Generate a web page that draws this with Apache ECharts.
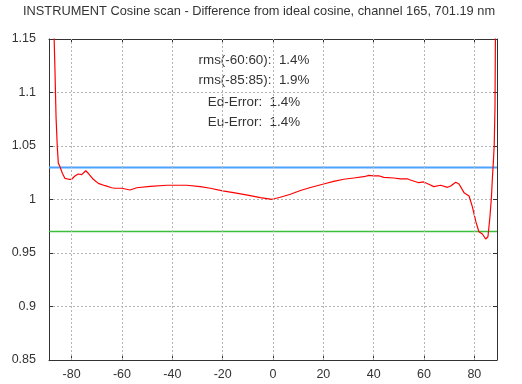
<!DOCTYPE html>
<html>
<head>
<meta charset="utf-8">
<script src="https://cdn.jsdelivr.net/npm/echarts@6/dist/echarts.min.js"></script>
<style>
  html, body { margin: 0; padding: 0; background: #fff; }
  #chart { width: 522px; height: 384px; }
</style>
</head>
<body>
<div id="chart"></div>
<script>
// Cosine-scan deviation: measured / ideal cosine response versus incidence angle
const angles = [-87.5, -86.6, -86.2, -85.7, -85.3, -84.7, -83.7, -82.7, -81.1, -80.0,
  -78.7, -77.4, -76.0, -74.4, -73.4, -71.4, -69.4, -66.7, -64.1, -62.8,
  -60.1, -56.8, -54.1, -48.8, -42.2, -34.2, -28.9, -24.9, -20.0, -15.7,
  -9.0, -5.1, -0.4, 2.9, 6.9, 10.9, 14.9, 20.1, 24.1, 28.1,
  32.1, 36.1, 38.1, 40.0, 42.0, 44.0, 48.0, 50.6, 53.3, 54.6,
  57.9, 59.9, 61.9, 63.9, 66.6, 69.3, 70.6, 72.6, 73.9, 75.9,
  77.9, 79.2, 80.6, 81.8, 83.2, 84.5, 85.4, 86.2, 86.8, 87.2,
  87.6, 87.9, 88.2, 88.5];
const ratio = [1.200, 1.118, 1.077, 1.049, 1.034, 1.031, 1.0245, 1.0198, 1.0189, 1.0189,
  1.022, 1.0238, 1.0232, 1.0269, 1.0245, 1.0189, 1.0151, 1.0129, 1.011, 1.0105,
  1.0105, 1.0089, 1.011, 1.0123, 1.0133, 1.0133, 1.012, 1.0105, 1.008, 1.0064,
  1.0036, 1.0017, 1.0002, 1.0021, 1.0049, 1.0084, 1.0112, 1.0145, 1.017, 1.0189,
  1.0201, 1.0213, 1.0226, 1.022, 1.0222, 1.0207, 1.0201, 1.0192, 1.0194, 1.0182,
  1.0157, 1.0164, 1.0142, 1.012, 1.0133, 1.0114, 1.0126, 1.0161, 1.0145, 1.0064,
  1.0033, 0.9933, 0.9793, 0.9699, 0.9678, 0.9631, 0.9652, 0.9839, 1.0026, 1.0213,
  1.0369, 1.051, 1.086, 1.200];

// Tolerance band limits (+/- 3 %)
const upperLimit = 1.03;
const lowerLimit = 0.97;

// Axis ranges and ticks
const xMin = -89, xMax = 89;
const xTicks = [-80, -60, -40, -20, 0, 20, 40, 60, 80];
const yMin = 0.85, yMax = 1.15, yStep = 0.05;

// Statistics text block
const statLines = ['rms(-60:60):  1.4%', 'rms(-85:85):  1.9%', 'Ed-Error:  1.4%', 'Eu-Error:  1.4%'];
const titleText = 'INSTRUMENT Cosine scan - Difference from ideal cosine, channel 165, 701.19 nm';

const FONT = '"Liberation Sans", Arial, sans-serif';
const TEXT = '#333333';
const FRAME = '#333333';
const GRID = '#b4b4b4';

const chart = echarts.init(document.getElementById('chart'), null, { renderer: 'canvas' });

const frameLine = { show: true, onZero: false, lineStyle: { color: FRAME, width: 1 } };

// horizontal limit line spanning the full angle range
function limitSeries(level, color, width) {
  return {
    type: 'line',
    data: [[xMin, level], [xMax, level]],
    showSymbol: false,
    silent: true,
    color: color,
    lineStyle: { color: color, width: width, opacity: 1 },
    emphasis: { disabled: true },
    z: 2
  };
}

const option = {
  animation: false,
  backgroundColor: '#ffffff',
  grid: { left: 49, right: 25, top: 39, bottom: 24, containLabel: false },
  xAxis: [
    {
      type: 'value', min: xMin, max: xMax, position: 'bottom',
      axisLine: frameLine,
      axisTick: { show: true, inside: true, length: 4, customValues: xTicks, lineStyle: { color: FRAME } },
      axisLabel: { customValues: xTicks, color: TEXT, fontFamily: FONT, fontSize: 12.5, margin: 8 },
      splitLine: { show: false }
    },
    {
      type: 'value', min: xMin, max: xMax, position: 'top',
      axisLine: frameLine,
      axisTick: { show: true, inside: true, length: 4, customValues: xTicks, lineStyle: { color: FRAME } },
      axisLabel: { show: false },
      splitLine: { show: false }
    }
  ],
  yAxis: [
    {
      type: 'value', min: yMin, max: yMax, interval: yStep, position: 'left',
      axisLine: frameLine,
      axisTick: { show: true, inside: true, length: 4, lineStyle: { color: FRAME } },
      axisLabel: {
        color: TEXT, fontFamily: FONT, fontSize: 12.5, margin: 13,
        formatter: v => String(Math.round(v * 100) / 100)
      },
      splitLine: { show: true, lineStyle: { color: GRID, width: 1, type: [2, 2] } }
    },
    {
      type: 'value', min: yMin, max: yMax, interval: yStep, position: 'right',
      axisLine: frameLine,
      axisTick: { show: true, inside: true, length: 4, lineStyle: { color: FRAME } },
      axisLabel: { show: false },
      splitLine: { show: false }
    }
  ],
  series: [
    {
      // vertical dotted grid at the labelled angles
      type: 'line',
      data: [],
      markLine: {
        silent: true,
        symbol: 'none',
        label: { show: false },
        lineStyle: { color: GRID, width: 1, type: [2, 2] },
        data: xTicks.map(v => ({ xAxis: v }))
      },
      z: 1
    },
    limitSeries(upperLimit, '#4aa3ff', 2),
    limitSeries(lowerLimit, '#38c038', 1.5),
    {
      type: 'line',
      data: angles.map((a, i) => [a, ratio[i]]),
      showSymbol: false,
      clip: true,
      color: '#ff0000',
      lineStyle: { color: '#ff0000', width: 1.2 },
      emphasis: { disabled: true },
      z: 3
    }
  ],
  graphic: [
    {
      type: 'text', left: 23, top: 5,
      style: { text: titleText, fill: TEXT, font: '12.8px ' + FONT }
    }
  ].concat(statLines.map((s, i) => ({
    type: 'text',
    x: 254, y: [60, 80, 102, 122][i],
    style: { text: s, fill: TEXT, font: '13.4px ' + FONT, align: 'center', verticalAlign: 'middle' }
  })))
};

chart.setOption(option);
</script>
</body>
</html>
